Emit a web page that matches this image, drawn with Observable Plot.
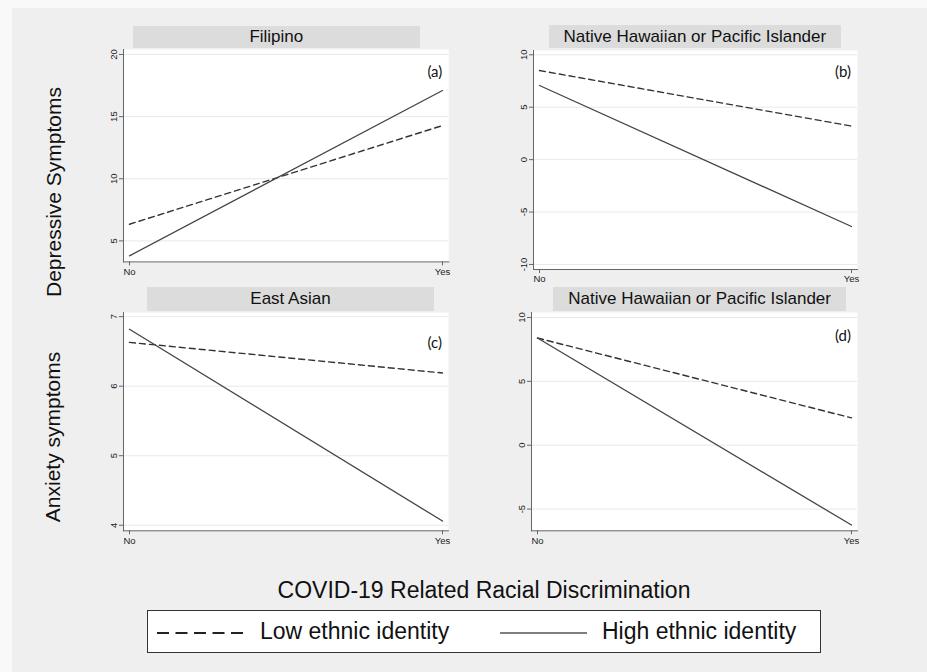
<!DOCTYPE html>
<html><head><meta charset="utf-8">
<script src="https://cdn.jsdelivr.net/npm/d3@7"></script>
<script src="https://cdn.jsdelivr.net/npm/@observablehq/plot@0.6"></script>
<style>
html,body{margin:0;padding:0;background:#f9f9f9;}
#fig{position:relative;width:927px;height:672px;overflow:hidden;font-family:"Liberation Sans",Arial,sans-serif;color:#111;}
#bg{position:absolute;left:12px;top:8px;right:0;bottom:0;background:#efefef;}
.strip{position:absolute;background:#dcdcdc;font-size:17px;display:flex;align-items:center;justify-content:center;white-space:nowrap;}
.panel{position:absolute;}
.rowlab{position:absolute;font-size:21px;white-space:nowrap;transform:translate(-50%,-50%) rotate(-90deg);}
#xtitle{position:absolute;left:484px;top:590px;transform:translate(-50%,-50%);font-size:23px;white-space:nowrap;}
#legend{position:absolute;left:147px;top:610px;width:672px;height:41px;border:1.5px solid #333;background:#fff;}
#legend .t{position:absolute;top:50%;transform:translateY(-52%);font-size:23px;white-space:nowrap;}
#legend svg{position:absolute;top:0;left:0;}
</style>
</head><body>
<div id="fig"><div id="bg"></div></div>
<script>
// ---- data ----
const panels = ["Filipino", "Native Hawaiian or Pacific Islander", "East Asian", "Native Hawaiian or Pacific Islander"];
const panelTags = ["(a)", "(b)", "(c)", "(d)"];
const outcomes = ["Depressive Symptoms", "Anxiety symptoms"];
const discrimination = ["No", "Yes"];
const groups = ["Low ethnic identity", "High ethnic identity"];
const lowIdentity  = [[6.34, 14.28], [8.5, 3.2], [6.63, 6.19], [8.39, 2.14]];
const highIdentity = [[3.8, 17.1], [7.07, -6.38], [6.82, 4.06], [8.39, -6.25]];
const yTicks = [[5, 10, 15, 20], [-10, -5, 0, 5, 10], [4, 5, 6, 7], [-5, 0, 5, 10]];
const yDomains = [[3.31, 20.4], [-10.48, 10.41], [3.92, 7.06], [-6.7, 10.39]];
const xTitle = "COVID-19 Related Racial Discrimination";

// ---- layout (page pixels) ----
const frames = [
  {x0: 122.7, x1: 448,   y0: 49.3,  y1: 261.7, strip: [132.7, 26, 420, 48.3],    tagDy: 17},
  {x0: 532.7, x1: 856.7, y0: 50,    y1: 269,   strip: [549, 25, 840.7, 48.3],    tagDy: 16},
  {x0: 123.3, x1: 448.3, y0: 311.7, y1: 530,   strip: [146.7, 286.7, 434.3, 310.7], tagDy: 25},
  {x0: 530.7, x1: 856.7, y0: 311.7, y1: 530,   strip: [553.3, 286.7, 846, 310.7], tagDy: 18}
];
const fig = document.getElementById("fig");
const mL = 40, mT = 5, mR = 10, mB = 25;

panels.forEach((name, i) => {
  const f = frames[i];
  const strip = document.createElement("div");
  strip.className = "strip";
  Object.assign(strip.style, {left: f.strip[0] + "px", top: f.strip[1] + "px",
    width: (f.strip[2] - f.strip[0]) + "px", height: (f.strip[3] - f.strip[1]) + "px"});
  strip.textContent = name;
  fig.appendChild(strip);

  const low = discrimination.map((d, j) => ({x: d, y: lowIdentity[i][j], g: groups[0]}));
  const high = discrimination.map((d, j) => ({x: d, y: highIdentity[i][j], g: groups[1]}));

  const chart = Plot.plot({
    width: f.x1 - f.x0 + mL + mR,
    height: f.y1 - f.y0 + mT + mB,
    marginLeft: mL, marginTop: mT, marginRight: mR, marginBottom: mB,
    style: {background: "transparent", fontFamily: "Liberation Sans, Arial, sans-serif", fontSize: "9.5px", overflow: "visible", color: "#222"},
    x: {type: "point", domain: discrimination, padding: 0, insetLeft: 6, insetRight: 5.5, label: null},
    y: {domain: yDomains[i], label: null},
    marks: [
      Plot.frame({fill: "white", stroke: null}),
      Plot.gridY(yTicks[i], {stroke: "#e2ebec", strokeOpacity: 1}),
      Plot.axisY(yTicks[i], {tickSize: 4, tickPadding: 3, tickRotate: -90, tickFormat: d => String(d), textAnchor: "middle", lineAnchor: "bottom", stroke: "#666", fill: "#222", label: null}),
      Plot.axisX({tickSize: 4, tickPadding: 2, stroke: "#666", fill: "#222", label: null}),
      Plot.frame({anchor: "left", stroke: "#666", strokeOpacity: 1}),
      Plot.frame({anchor: "bottom", stroke: "#666", strokeOpacity: 1}),
      Plot.line(low, {x: "x", y: "y", stroke: "#333", strokeWidth: 1.4, strokeDasharray: "6,4"}),
      Plot.line(high, {x: "x", y: "y", stroke: "#444", strokeWidth: 1.3}),
      Plot.text([panelTags[i]], {text: d => d, frameAnchor: "top-right", textAnchor: "end", dx: -6.5, dy: f.tagDy, fontSize: 15, fontFamily: "Lato, Open Sans, sans-serif", fill: "#111"})
    ]
  });
  chart.classList.add("panel");
  chart.style.left = (f.x0 - mL) + "px";
  chart.style.top = (f.y0 - mT) + "px";
  fig.appendChild(chart);
});

// row labels
[[54, 192], [53, 437]].forEach(([cx, cy], k) => {
  const d = document.createElement("div");
  d.className = "rowlab";
  d.style.left = cx + "px"; d.style.top = cy + "px";
  d.textContent = outcomes[k];
  fig.appendChild(d);
});

// x title
const xt = document.createElement("div");
xt.id = "xtitle"; xt.textContent = xTitle; fig.appendChild(xt);

// legend
const lg = document.createElement("div");
lg.id = "legend";
lg.innerHTML = `<svg width="672" height="41">
  <line x1="9" x2="97" y1="22" y2="22" stroke="#222" stroke-width="2" stroke-dasharray="12,6.5"/>
  <line x1="352" x2="439" y1="22" y2="22" stroke="#555" stroke-width="1.3"/>
</svg>
<div class="t" style="left:112px">${groups[0]}</div>
<div class="t" style="left:454px">${groups[1]}</div>`;
fig.appendChild(lg);
</script>
</body></html>
